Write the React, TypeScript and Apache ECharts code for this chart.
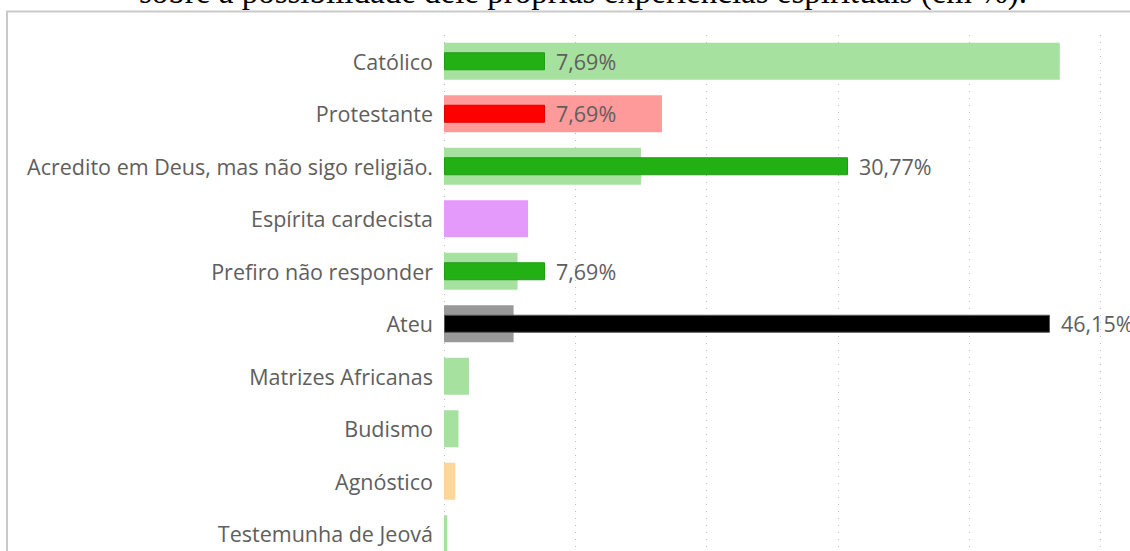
import React, { useEffect, useRef } from 'react';
import * as echarts from 'echarts';

const categories = [
  'Católico',
  'Protestante',
  'Acredito em Deus, mas não sigo religião.',
  'Espírita cardecista',
  'Prefiro não responder',
  'Ateu',
  'Matrizes Africanas',
  'Budismo',
  'Agnóstico',
  'Testemunha de Jeová',
];

// wide, light bars (background measure, %)
const referenceValues = [46.9, 16.6, 15.0, 6.4, 5.6, 5.3, 1.9, 1.1, 0.86, 0.25];
// narrow, dark bars (labelled measure, %)
const sampleValues: (number | null)[] = [7.69, 7.69, 30.77, null, 7.69, 46.15, null, null, null, null];

const referenceColors = ['#A7E1A0', '#FF9A9A', '#A7E1A0', '#E39AFA', '#A7E1A0', '#999999', '#A7E1A0', '#A7E1A0', '#FFD699', '#A7E1A0'];
const sampleColors = ['#23B014', '#FF0000', '#23B014', '#E39AFA', '#23B014', '#000000', '#23B014', '#23B014', '#FFD699', '#23B014'];
const sampleBorders = ['#1F9E12', '#E00000', '#1F9E12', '#E39AFA', '#1F9E12', '#555555', '#1F9E12', '#1F9E12', '#FFD699', '#1F9E12'];

const xTicks = { min: 0, max: 60, interval: 10 };
const titleText = 'sobre a possibilidade dele próprias experiências espirituais (em %).';

export default function App() {
  const ref = useRef<HTMLDivElement>(null);
  useEffect(() => {
    if (!ref.current) return;
    const chart = echarts.init(ref.current, null, { renderer: 'svg' });
    const pxPerUnit = 13.13;
    chart.setOption({
      animation: false,
      textStyle: { fontFamily: 'Open Sans' },
      grid: { left: 444, top: 35, width: xTicks.max * pxPerUnit, height: 525 },
      xAxis: {
        type: 'value',
        min: xTicks.min,
        max: xTicks.max,
        interval: xTicks.interval,
        axisLabel: { show: false },
        axisLine: { show: false },
        axisTick: { show: false },
        splitLine: { show: true, lineStyle: { color: '#BDBDBD', type: [1, 6], width: 1 } },
      },
      yAxis: [
        {
          type: 'category',
          data: categories,
          inverse: true,
          axisLine: { show: false },
          axisTick: { show: false },
          axisLabel: { color: '#605E5C', fontSize: 21.5, margin: 11, fontFamily: 'Open Sans' },
        },
        { type: 'category', data: categories, inverse: true, show: false },
      ],
      series: [
        {
          type: 'bar',
          yAxisIndex: 0,
          barWidth: 37,
          data: referenceValues.map((v, i) => ({ value: v, itemStyle: { color: referenceColors[i] } })),
        },
        {
          type: 'bar',
          yAxisIndex: 1,
          barWidth: 18,
          data: sampleValues.map((v, i) =>
            v == null ? null : { value: v, itemStyle: { color: sampleColors[i], borderColor: sampleBorders[i], borderWidth: 1 } }
          ),
          label: {
            show: true,
            position: 'right',
            distance: 11,
            color: '#605E5C',
            fontSize: 21.5,
            fontFamily: 'Open Sans',
            formatter: (p: any) => Number(p.value).toFixed(2).replace('.', ',') + '%',
          },
        },
      ],
      graphic: [
        {
          type: 'text',
          x: 583,
          y: 8.5,
          style: {
            text: titleText,
            font: '33px "Liberation Serif"',
            fill: '#000000',
            align: 'center',
            verticalAlign: 'bottom',
          },
        },
        {
          type: 'polyline',
          shape: { points: [[7, 620], [7, 11.5], [1240, 11.5]] },
          style: { stroke: '#CACACA', lineWidth: 2, fill: 'none' },
        },
      ],
    });
    return () => chart.dispose();
  }, []);
  return (
    <div style={{ position: 'absolute', left: 0, top: 0, width: 1130, height: 551, overflow: 'hidden' }}>
      <div ref={ref} style={{ width: 1240, height: 600 }} />
    </div>
  );
}
